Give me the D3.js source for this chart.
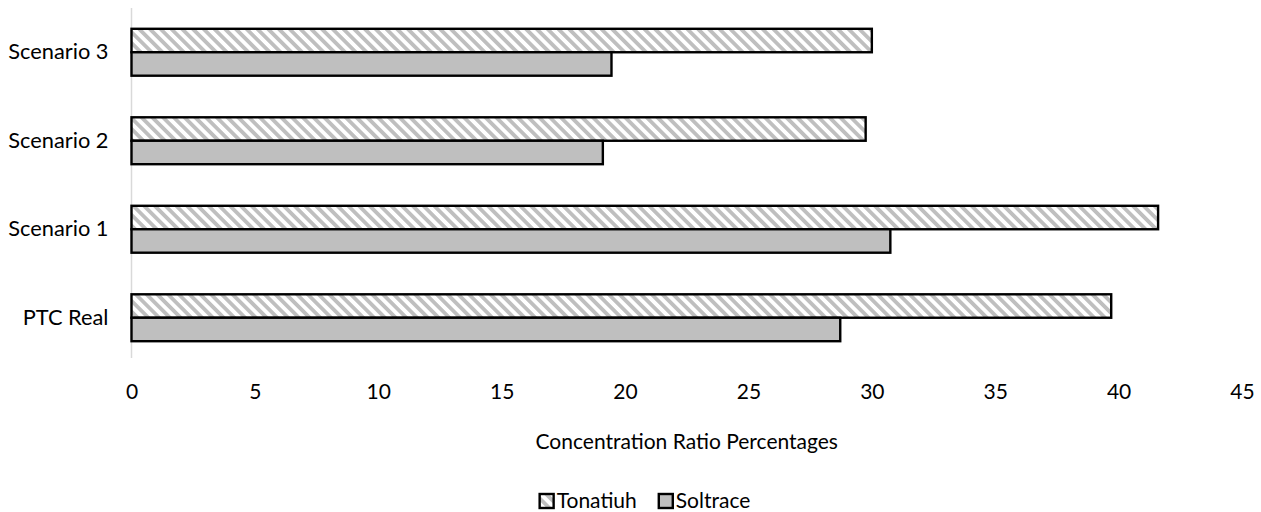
<!DOCTYPE html>
<html>
<head>
<meta charset="utf-8">
<script src="https://cdn.jsdelivr.net/npm/d3@7/dist/d3.min.js"></script>
<style>
  html, body { margin: 0; padding: 0; background: #ffffff; }
  svg { display: block; }
  text { font-family: Lato, "Open Sans", sans-serif; fill: #000; }
</style>
</head>
<body>
<svg id="chart" width="1261" height="512"></svg>
<script>
// ---- data ----
const categories = ["Scenario 3", "Scenario 2", "Scenario 1", "PTC Real"];
const seriesNames = ["Tonatiuh", "Soltrace"];
const tonatiuh = [30.0, 29.75, 41.6, 39.7];
const soltrace = [19.45, 19.1, 30.75, 28.72];
const xTicks = [0, 5, 10, 15, 20, 25, 30, 35, 40, 45];
const xTitle = "Concentration Ratio Percentages";

// ---- layout ----
const W = 1261, H = 512;
const plot = { left: 131.5, right: 1242, top: 8, bottom: 362 };
const fontSize = 21;

const svg = d3.select("#chart");
const defs = svg.append("defs");
const pat = defs.append("pattern")
  .attr("id", "hatch")
  .attr("patternUnits", "userSpaceOnUse")
  .attr("width", 7.6).attr("height", 7.6)
  .attr("patternTransform", "rotate(-45)");
pat.append("rect").attr("width", 7.6).attr("height", 7.6).attr("fill", "#ffffff");
pat.append("rect").attr("width", 3.8).attr("height", 7.6).attr("fill", "#bfbfbf");

const fills = { "Tonatiuh": "url(#hatch)", "Soltrace": "#bfbfbf" };

const x = d3.scaleLinear().domain([0, 45]).range([plot.left, plot.right]);
const y = d3.scaleBand().domain(categories).range([plot.top, plot.bottom])
  .paddingInner(0.47).paddingOuter(0.235);
const ySub = d3.scaleBand().domain(seriesNames).range([0, y.bandwidth()]);

const rows = categories.map((c, i) => ({ cat: c, Tonatiuh: tonatiuh[i], Soltrace: soltrace[i] }));

// y-axis line
svg.append("line")
  .attr("x1", x(0)).attr("x2", x(0))
  .attr("y1", plot.top).attr("y2", plot.bottom - 4)
  .attr("stroke", "#d9d9d9").attr("stroke-width", 1.5);

// bars
const g = svg.append("g");
rows.forEach(r => {
  seriesNames.forEach(s => {
    g.append("rect")
      .attr("x", x(0))
      .attr("y", y(r.cat) + ySub(s))
      .attr("width", x(r[s]) - x(0))
      .attr("height", ySub.bandwidth())
      .attr("fill", fills[s])
      .attr("stroke", "#000")
      .attr("stroke-width", 2.4);
  });
});

// y-axis labels
const yAxis = d3.axisLeft(y).tickSize(0).tickPadding(0);
const yg = svg.append("g").attr("transform", `translate(${x(0) - 23},0)`).call(yAxis);
yg.select(".domain").remove();
yg.selectAll("text").attr("font-size", 21.8).attr("font-family", "Lato, sans-serif").attr("fill", "#000");

// x-axis labels
const xAxis = d3.axisBottom(x).tickValues(xTicks).tickSize(0).tickPadding(0).tickFormat(d3.format("d"));
const xg = svg.append("g").attr("transform", `translate(0,${plot.bottom + 22})`).call(xAxis);
xg.select(".domain").remove();
xg.selectAll("text").attr("font-size", fontSize).attr("font-family", "Lato, sans-serif").attr("fill", "#000").attr("dy", "0.71em");

// axis title
svg.append("text")
  .attr("x", (plot.left + plot.right) / 2)
  .attr("y", 442)
  .attr("dy", "0.35em")
  .attr("text-anchor", "middle")
  .attr("font-size", fontSize)
  .text(xTitle);

// legend
const leg = svg.append("g");
const sw = 14, gapText = 3, gapItem = 22;
let cx = 0;
seriesNames.forEach(s => {
  const it = leg.append("g").attr("transform", `translate(${cx},0)`);
  it.append("rect").attr("x", 0).attr("y", -sw / 2).attr("width", sw).attr("height", sw)
    .attr("fill", fills[s]).attr("stroke", "#000").attr("stroke-width", 2.4);
  const t = it.append("text").attr("x", sw + gapText).attr("y", 0).attr("dy", "0.35em")
    .attr("font-size", fontSize).text(s);
  const w = t.node().getComputedTextLength();
  cx += sw + gapText + w + gapItem;
});
const totalW = cx - gapItem;
leg.attr("transform", `translate(${645 - totalW / 2},501)`);
</script>
</body>
</html>
